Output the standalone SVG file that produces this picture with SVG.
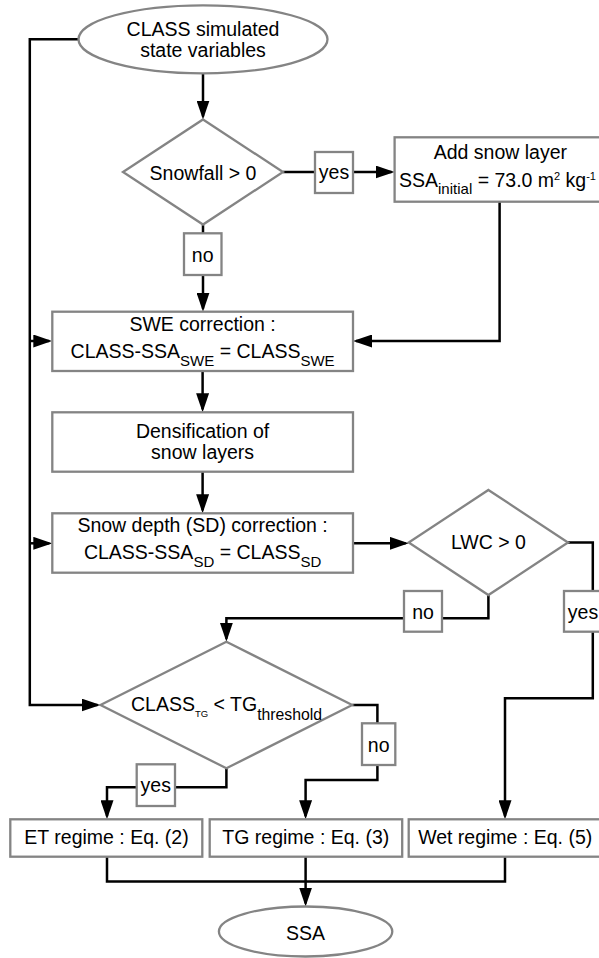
<svg xmlns="http://www.w3.org/2000/svg" width="599" height="958" viewBox="0 0 599 958">
<style>
.n{fill:#fff;stroke:#848484;stroke-width:2.3}
.c{fill:none;stroke:#000;stroke-width:2.5}
.t{font-family:"Liberation Sans",Arial,sans-serif;font-size:19.5px;fill:#000;text-anchor:middle}
.s{font-size:15px}
</style>
<defs>
<marker id="a" markerUnits="userSpaceOnUse" markerWidth="19" markerHeight="13" refX="16" refY="6.5" orient="auto">
<path d="M0,0 L19,6.5 L0,13 z" fill="#000"/>
</marker>
</defs>
<rect width="599" height="958" fill="#fff"/>
<g id="connectors">
<path class="c" d="M78.3,39.3 H29.8 V705 H97.5" marker-end="url(#a)"/>
<path class="c" d="M29.8,341 H49.3" marker-end="url(#a)"/>
<path class="c" d="M29.8,543.3 H49.3" marker-end="url(#a)"/>
<path class="c" d="M203,73.3 V116.5" marker-end="url(#a)"/>
<path class="c" d="M283,172 H391.6" marker-end="url(#a)"/>
<path class="c" d="M203,224.5 V308.7" marker-end="url(#a)"/>
<path class="c" d="M499.6,201.7 V341 H356" marker-end="url(#a)"/>
<path class="c" d="M202.6,371 V409.3" marker-end="url(#a)"/>
<path class="c" d="M202.6,471.7 V510.3" marker-end="url(#a)"/>
<path class="c" d="M353,543.3 H405.7" marker-end="url(#a)"/>
<path class="c" d="M488.4,595 V618.3 H226.4 V638.7" marker-end="url(#a)"/>
<path class="c" d="M568,542.5 H592.8 V698.3 H505 V816.3" marker-end="url(#a)"/>
<path class="c" d="M352.2,705 H377.4 V780 H305.6 V816.3" marker-end="url(#a)"/>
<path class="c" d="M226.4,768.3 V787.3 H107 V816.3" marker-end="url(#a)"/>
<path class="c" d="M107,856.7 V881.5 H505 V856.7"/>
<path class="c" d="M305.6,856.7 V903.5" marker-end="url(#a)"/>
</g>
<g id="start">
<ellipse class="n" cx="203" cy="39.3" rx="124.5" ry="34"/>
<text class="t" x="203" y="36">CLASS simulated</text>
<text class="t" x="203" y="57">state variables</text>
</g>
<g id="snowfall">
<polygon class="n" points="203,119.5 283,172 203,224.5 123,172"/>
<text class="t" x="203" y="179.5">Snowfall &gt; 0</text>
</g>
<g id="yes1">
<rect class="n" x="315" y="152" width="38" height="41"/>
<text class="t" x="334" y="178.5">yes</text>
</g>
<g id="addsnow">
<rect class="n" x="394.6" y="137.3" width="212" height="64.4"/>
<text class="t" x="500.4" y="159">Add snow layer</text>
<text class="t" x="399" y="186.7" style="text-anchor:start">SSA<tspan class="s" dy="7.6">initial</tspan><tspan dy="-7.6"> = 73.0 m</tspan><tspan style="font-size:11px" dy="-7">2</tspan><tspan dy="7"> kg</tspan><tspan style="font-size:11px" dy="-7">-1</tspan></text>
</g>
<g id="no1">
<rect class="n" x="184" y="233.3" width="37.5" height="41.7"/>
<text class="t" x="202.7" y="261.7">no</text>
</g>
<g id="swe">
<rect class="n" x="52.3" y="311.7" width="300.7" height="59.3"/>
<text class="t" x="202.6" y="330.7">SWE correction :</text>
<text class="t" x="202.6" y="358.3">CLASS-SSA<tspan class="s" dy="7.7">SWE</tspan><tspan dy="-7.7"> = CLASS</tspan><tspan class="s" dy="7.7">SWE</tspan></text>
</g>
<g id="densification">
<rect class="n" x="52.3" y="412.3" width="300.7" height="59.4"/>
<text class="t" x="202.6" y="437.7">Densification of</text>
<text class="t" x="202.6" y="459.3">snow layers</text>
</g>
<g id="sd">
<rect class="n" x="52.3" y="513.3" width="300.7" height="59.4"/>
<text class="t" x="202.6" y="532.3">Snow depth (SD) correction :</text>
<text class="t" x="202.6" y="559.3">CLASS-SSA<tspan class="s" dy="8">SD</tspan><tspan dy="-8"> = CLASS</tspan><tspan class="s" dy="8">SD</tspan></text>
</g>
<g id="lwc">
<polygon class="n" points="488.4,490 568,542.5 488.4,595 408.7,542.5"/>
<text class="t" x="488.4" y="549.3">LWC &gt; 0</text>
</g>
<g id="no2">
<rect class="n" x="404" y="591" width="38" height="40.7"/>
<text class="t" x="423" y="619">no</text>
</g>
<g id="yes2">
<rect class="n" x="564" y="591" width="38" height="40.7"/>
<text class="t" x="583" y="619">yes</text>
</g>
<g id="tg">
<polygon class="n" points="226.4,641.7 352.2,705 226.4,768.3 100.5,705"/>
<text class="t" x="226.6" y="710.5">CLASS<tspan style="font-size:9.5px" dy="6.5">TG</tspan><tspan dy="-6.5"> &lt; TG</tspan><tspan style="font-size:15.8px" dy="9.5">threshold</tspan></text>
</g>
<g id="no3">
<rect class="n" x="362" y="723.3" width="33.3" height="41.7"/>
<text class="t" x="378.7" y="751.7">no</text>
</g>
<g id="yes3">
<rect class="n" x="136.7" y="764.3" width="38.3" height="41.7"/>
<text class="t" x="155.8" y="791.7">yes</text>
</g>
<g id="et">
<rect class="n" x="10.3" y="819.3" width="192" height="37.4"/>
<text class="t" x="106.5" y="844">ET regime : Eq. (2)</text>
</g>
<g id="tgregime">
<rect class="n" x="209.7" y="819.3" width="192.5" height="37.4"/>
<text class="t" x="305.8" y="844">TG regime : Eq. (3)</text>
</g>
<g id="wet">
<rect class="n" x="408.7" y="819.3" width="193" height="37.4"/>
<text class="t" x="505.2" y="844">Wet regime : Eq. (5)</text>
</g>
<g id="ssa">
<ellipse class="n" cx="305.6" cy="931.5" rx="86.7" ry="25"/>
<text class="t" x="305.6" y="940">SSA</text>
</g>
</svg>
